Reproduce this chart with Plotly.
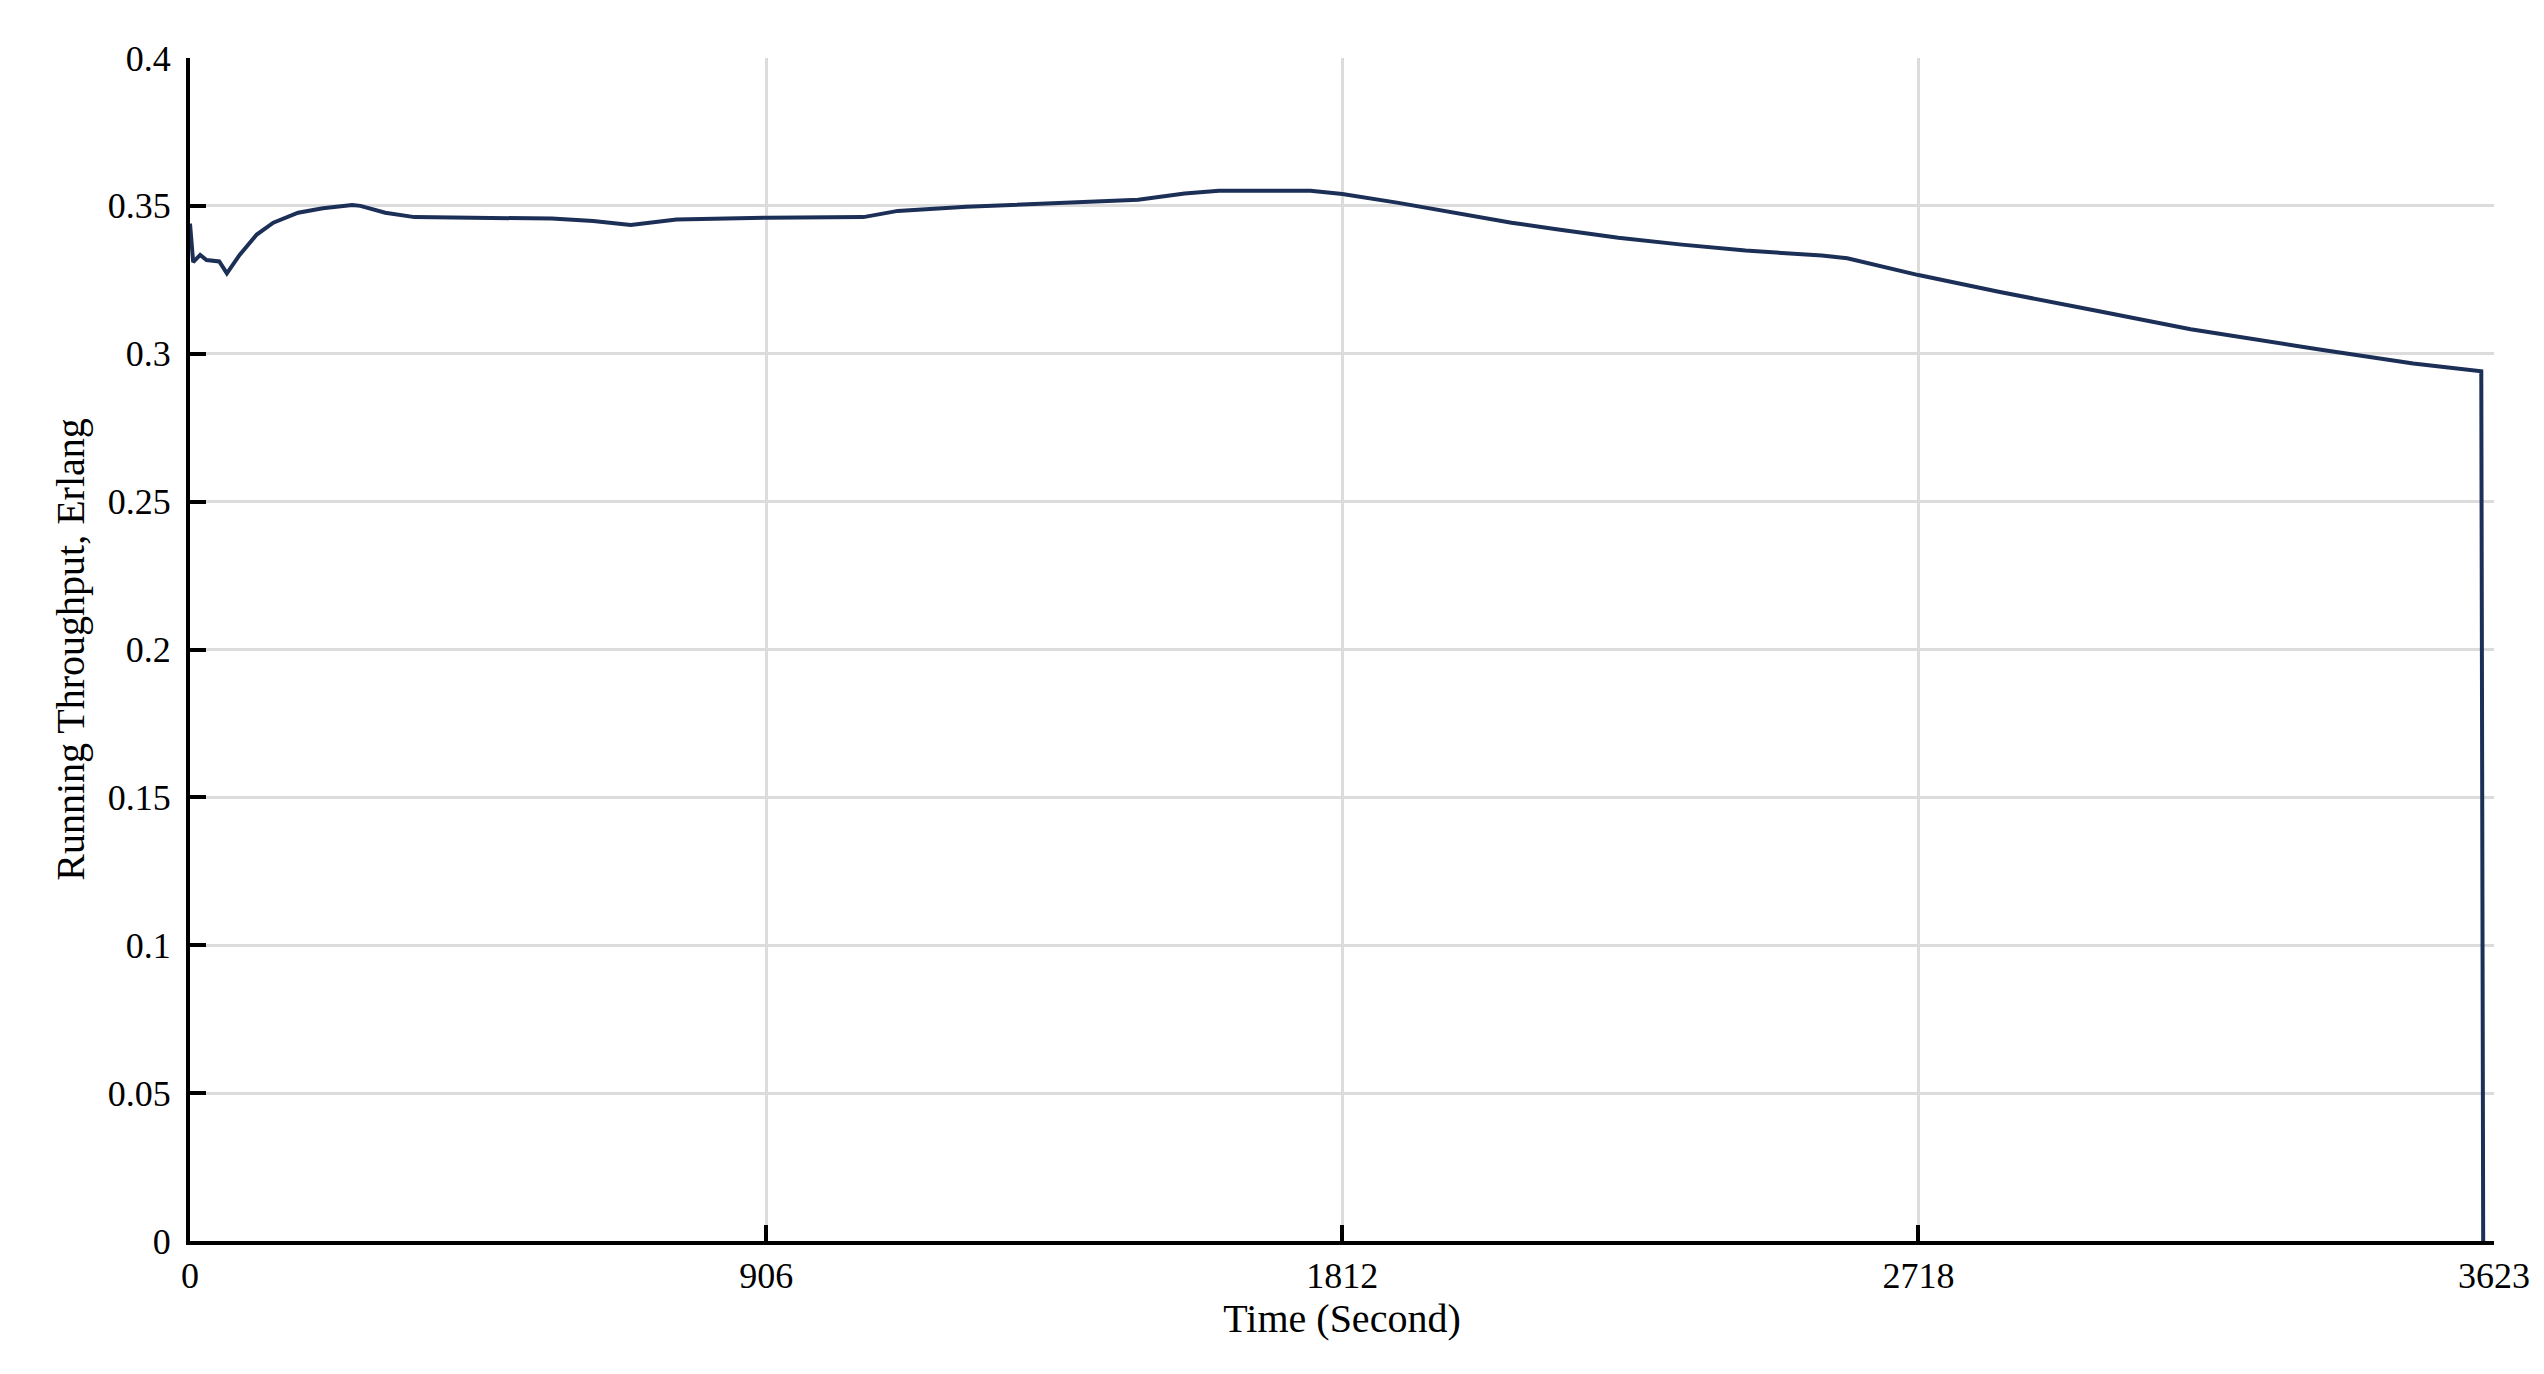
import plotly.graph_objects as go

# Running throughput
time_s = [0, 5, 16, 26, 46, 58, 78, 105, 131, 170, 209, 255, 268, 307, 353,
          471, 569, 634, 693, 765, 906, 1059, 1113, 1221, 1356, 1491, 1564,
          1618, 1762, 1812, 1898, 1988, 2078, 2146, 2246, 2346, 2446, 2566,
          2606, 2718, 2846, 2996, 3146, 3346, 3496, 3603, 3606]
throughput = [0.344, 0.331, 0.3334, 0.3317, 0.3312, 0.3272, 0.3334, 0.3403,
              0.3443, 0.3477, 0.3492, 0.3503, 0.350, 0.3477, 0.3462, 0.3458,
              0.3457, 0.3449, 0.3435, 0.3454, 0.346, 0.3462, 0.3483, 0.3497,
              0.3509, 0.3521, 0.3542, 0.3551, 0.3551, 0.354, 0.3511, 0.3477,
              0.3443, 0.3422, 0.3392, 0.3369, 0.3349, 0.3332, 0.3323, 0.3266,
              0.3209, 0.3146, 0.3083, 0.3015, 0.2967, 0.2941, 0.0]

# Axis ticks
x_ticks = [0, 906, 1812, 2718, 3623]
y_ticks = [0, 0.05, 0.1, 0.15, 0.2, 0.25, 0.3, 0.35, 0.4]
y_tick_labels = ["0", "0.05", "0.1", "0.15", "0.2", "0.25", "0.3", "0.35", "0.4"]

serif = "Liberation Serif, Times New Roman, serif"

fig = go.Figure(go.Scatter(
    x=time_s,
    y=throughput,
    mode='lines',
    line=dict(color='#1c2f57', width=4),
    showlegend=False
))

axis_style = dict(
    showline=True,
    linecolor='black',
    linewidth=4,
    mirror=False,
    ticks='inside',
    ticklen=16,
    tickwidth=4,
    tickcolor='black',
    showgrid=True,
    gridcolor='#dcdcdc',
    gridwidth=3,
    zeroline=False,
    tickfont=dict(family=serif, size=36, color='black'),
)

fig.update_xaxes(
    range=[0, 3623],
    tickvals=x_ticks,
    ticktext=[str(v) for v in x_ticks],
    title=dict(text="Time (Second)", font=dict(family=serif, size=40, color='black'), standoff=6),
    **axis_style
)
fig.update_yaxes(
    range=[0, 0.4],
    tickvals=y_ticks,
    ticktext=y_tick_labels,
    ticklabelstandoff=8,
    title=dict(text="Running Throughput, Erlang", font=dict(family=serif, size=40, color='black'), standoff=12),
    **axis_style
)

fig.update_layout(
    width=2544,
    height=1374,
    plot_bgcolor='white',
    paper_bgcolor='white',
    margin=dict(l=182, r=58, t=50, b=141)
)

fig.write_html("out.html")
